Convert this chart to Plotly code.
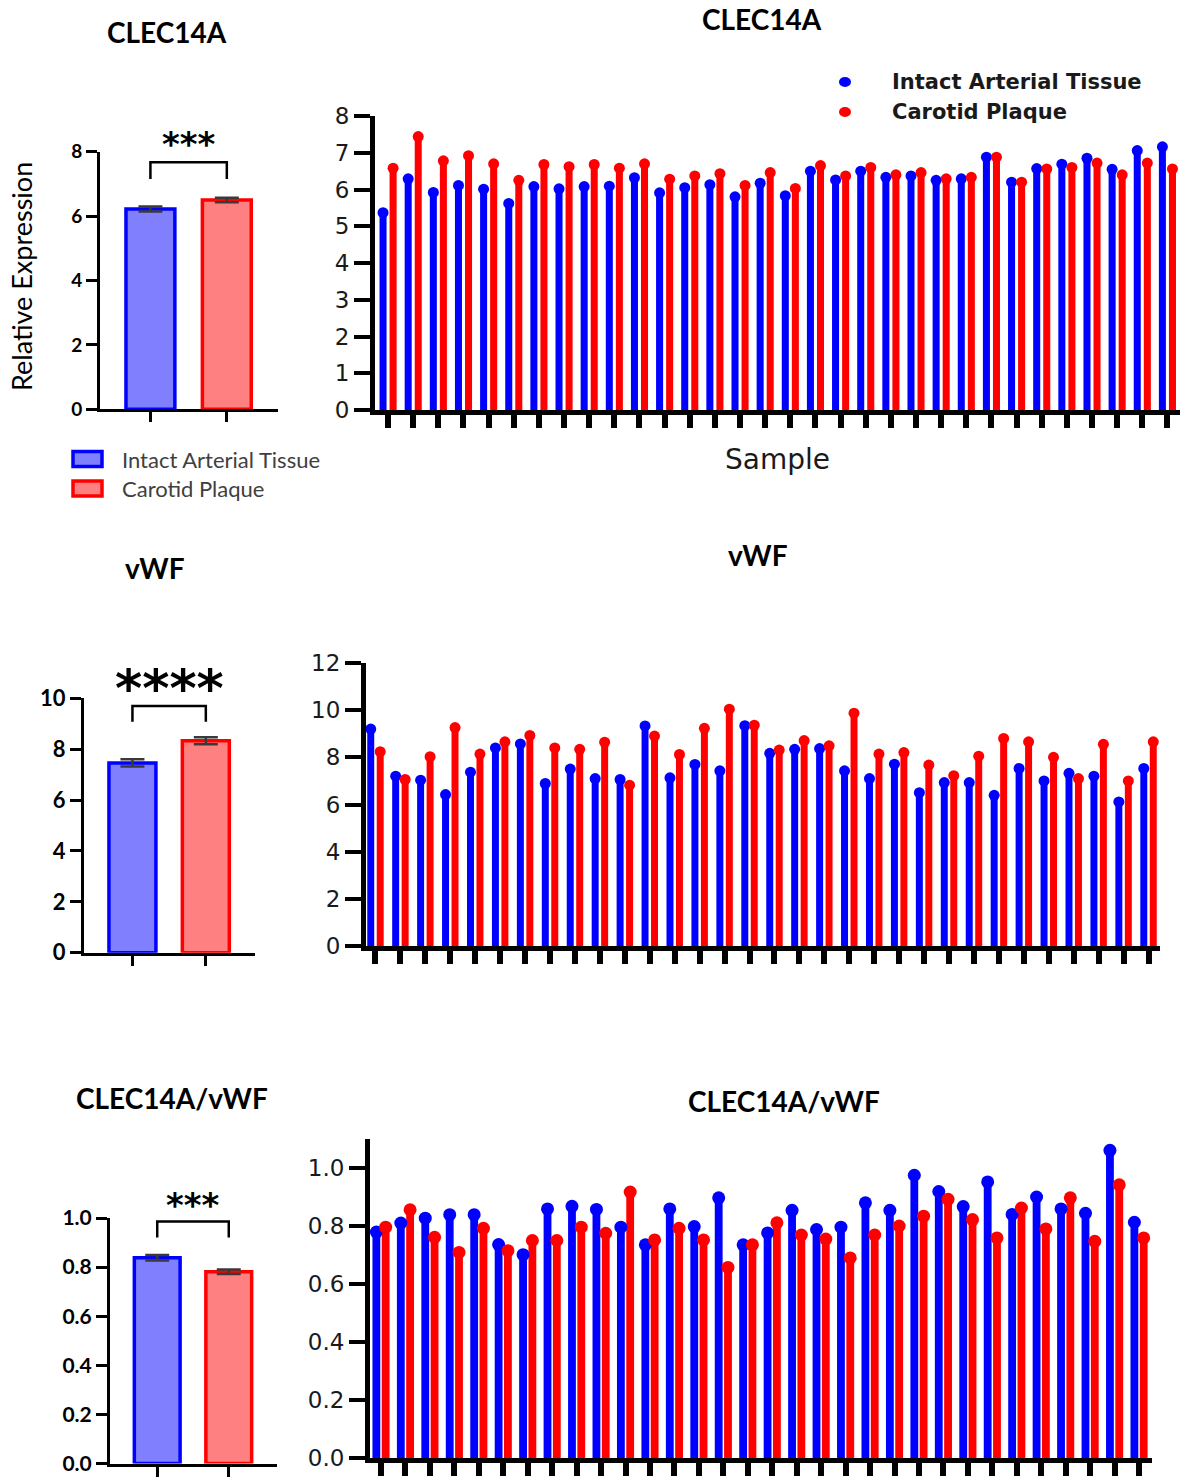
import plotly.graph_objects as go
import numpy as np

W, H = 1182, 1477
BLUE, RED = "#0000FF", "#FF0000"
BLUE_FILL, RED_FILL = "#8080FF", "#FF8080"

groups = ["Intact Arterial Tissue", "Carotid Plaque"]

# ---- summary bar data (mean, SEM) ----
clec_mean = [6.22, 6.50]
clec_sem = [0.08, 0.07]
vwf_mean = [7.46, 8.33]
vwf_sem = [0.14, 0.14]
ratio_mean = [0.838, 0.781]
ratio_sem = [0.011, 0.009]

clec_bracket = [7.15, 7.67]
vwf_bracket = [9.08, 9.70]
ratio_bracket = [0.921, 0.986]
clec_sig, vwf_sig, ratio_sig = "***", "****", "***"

# ---- per-sample data ----
samples = list(range(1, 33))
clec_intact = [5.37, 6.29, 5.92, 6.11, 6.01, 5.62, 6.08, 6.02, 6.08, 6.09, 6.32, 5.91, 6.05, 6.13, 5.80, 6.17,
               5.83, 6.50, 6.26, 6.50, 6.33, 6.37, 6.25, 6.29, 6.88, 6.20, 6.57, 6.69, 6.85, 6.55, 7.06, 7.16]
clec_plaque = [6.58, 7.44, 6.78, 6.92, 6.70, 6.25, 6.68, 6.62, 6.68, 6.58, 6.70, 6.28, 6.37, 6.43, 6.11, 6.46,
               6.03, 6.65, 6.37, 6.60, 6.40, 6.46, 6.29, 6.33, 6.88, 6.20, 6.56, 6.60, 6.72, 6.40, 6.72, 6.56]
vwf_intact = [9.20, 7.20, 7.03, 6.42, 7.37, 8.40, 8.57, 6.89, 7.50, 7.10, 7.06, 9.33, 7.13, 7.70, 7.43, 9.34,
              8.17, 8.34, 8.37, 7.43, 7.10, 7.71, 6.50, 6.93, 6.93, 6.39, 7.53, 7.00, 7.32, 7.20, 6.11, 7.53]
vwf_plaque = [8.24, 7.06, 8.03, 9.26, 8.14, 8.66, 8.93, 8.40, 8.34, 8.64, 6.82, 8.90, 8.12, 9.23, 10.04, 9.36,
              8.31, 8.71, 8.49, 9.87, 8.14, 8.20, 7.67, 7.22, 8.05, 8.80, 8.66, 8.00, 7.10, 8.55, 7.00, 8.66]
ratio_intact = [0.779, 0.810, 0.827, 0.839, 0.839, 0.736, 0.701, 0.859, 0.868, 0.857, 0.796, 0.735, 0.859, 0.798,
                0.897, 0.735, 0.776, 0.854, 0.788, 0.796, 0.880, 0.854, 0.975, 0.919, 0.867, 0.952, 0.840, 0.900,
                0.859, 0.844, 1.061, 0.813]
ratio_plaque = [0.796, 0.856, 0.761, 0.709, 0.792, 0.715, 0.750, 0.750, 0.796, 0.775, 0.917, 0.752, 0.792, 0.752,
                0.657, 0.735, 0.811, 0.769, 0.755, 0.690, 0.769, 0.800, 0.834, 0.892, 0.822, 0.759, 0.862, 0.790,
                0.897, 0.747, 0.942, 0.759]


def xd(px):
    return px / W


def yd(py):
    return 1 - py / H


fig = go.Figure()
layout = dict(width=W, height=H, margin=dict(l=0, r=0, t=0, b=0, autoexpand=False), paper_bgcolor="white",
              plot_bgcolor="white", showlegend=False, barmode="overlay")

SUFFIX = ["", "2", "3", "4", "5", "6"]
annotations = []


def bar_panel(k, means, sems, bracket, sig, xpx, ypx, yrange, dtick, tickfmt, tfsize, sig_size, sig_pos):
    xa, ya = "x" + SUFFIX[k], "y" + SUFFIX[k]
    for i, (m, s) in enumerate(zip(means, sems)):
        fig.add_trace(go.Bar(
            x=[i], y=[m], width=0.64, xaxis=xa, yaxis=ya,
            marker=dict(color=[BLUE_FILL, RED_FILL][i], line=dict(color=[BLUE, RED][i], width=3.5)),
            error_y=dict(type="data", array=[s], color="#3a3a3a", thickness=2.5, width=12),
            name=groups[i]))
    fig.add_trace(go.Scatter(x=[0, 0, 1, 1], y=[bracket[0], bracket[1], bracket[1], bracket[0]],
                             mode="lines", line=dict(color="black", width=2.5), xaxis=xa, yaxis=ya,
                             cliponaxis=False))
    layout["xaxis" + SUFFIX[k]] = dict(domain=[xd(xpx[0]), xd(xpx[1])], range=[-0.66, 1.67], anchor=ya,
                                       showline=True, linecolor="black", linewidth=3, ticks="outside",
                                       tickvals=[0, 1], ticklen=10, tickwidth=3, tickcolor="black",
                                       showticklabels=False, showgrid=False, zeroline=False, automargin=False)
    layout["yaxis" + SUFFIX[k]] = dict(domain=[yd(ypx[0]), yd(ypx[1])], range=yrange, anchor=xa,
                                       showline=True, linecolor="black", linewidth=3, ticks="outside",
                                       dtick=dtick, tick0=0, ticklen=11, tickwidth=3, tickcolor="black",
                                       tickformat=tickfmt, showgrid=False, zeroline=False, automargin=False,
                                       ticklabeloverflow="allow",
                                       tickfont=dict(family="Lato", size=tfsize, color="black", weight="bold"))
    annotations.append(dict(x=xd(sig_pos[0]), y=yd(sig_pos[1]), xref="paper", yref="paper", text=sig,
                            showarrow=False, xanchor="center", yanchor="middle",
                            font=dict(family="DejaVu Sans", size=sig_size, color="black", weight="bold")))


def lolli_panel(k, intact, plaque, xpx, ypx, xrange, yrange, dtick, tickfmt, stem_w, msize, off):
    xa, ya = "x" + SUFFIX[k], "y" + SUFFIX[k]
    idx = np.arange(len(samples))
    for vals, col, o in [(intact, BLUE, -off), (plaque, RED, off)]:
        fig.add_trace(go.Bar(x=idx + o, y=vals, width=stem_w, marker=dict(color=col, line=dict(width=0)),
                             xaxis=xa, yaxis=ya))
        fig.add_trace(go.Scatter(x=idx + o, y=vals, mode="markers", marker=dict(color=col, size=msize),
                                 xaxis=xa, yaxis=ya, cliponaxis=False))
    layout["xaxis" + SUFFIX[k]] = dict(domain=[xd(xpx[0]), xd(xpx[1])], range=xrange, anchor=ya,
                                       showline=True, linecolor="black", linewidth=5, ticks="outside",
                                       tickvals=list(idx), ticklen=13, tickwidth=6, tickcolor="black",
                                       showticklabels=False, showgrid=False, zeroline=False, automargin=False)
    layout["yaxis" + SUFFIX[k]] = dict(domain=[yd(ypx[0]), yd(ypx[1])], range=yrange, anchor=xa,
                                       showline=True, linecolor="black", linewidth=5, ticks="outside",
                                       dtick=dtick, tick0=0, ticklen=16, tickwidth=4, tickcolor="black",
                                       tickformat=tickfmt, showgrid=False, zeroline=False, automargin=False,
                                       ticklabeloverflow="allow",
                                       tickfont=dict(family="DejaVu Sans", size=23, color="#1a1a1a"))


# Left bar panels
bar_panel(0, clec_mean, clec_sem, clec_bracket, clec_sig, (100, 278), (409.3, 151.7), [0, 8], 2, "d", 19, 34,
          (189, 144))
bar_panel(2, vwf_mean, vwf_sem, vwf_bracket, vwf_sig, (84, 255), (952.7, 698.3), [0, 10], 2, "d", 22, 52,
          (169, 688))
bar_panel(4, ratio_mean, ratio_sem, ratio_bracket, ratio_sig, (110, 276.7), (1463.5, 1218), [0, 1], 0.2, ".1f",
          21, 34, (193, 1205))

# Right lollipop panels
lolli_panel(1, clec_intact, clec_plaque, (375, 1180), (410, 116), [-0.52, 31.5], [0, 8], 1, "d", 0.28, 11, 0.2)
lolli_panel(3, vwf_intact, vwf_plaque, (366, 1160), (946, 663), [-0.38, 31.46], [0, 12], 2, "d", 0.28, 11, 0.19)
lolli_panel(5, ratio_intact, ratio_plaque, (370, 1152), (1458, 1139), [-0.45, 31.53], [0, 1.1], 0.2, ".1f",
            0.32, 13, 0.19)

title_font = dict(family="Lato", size=28, color="black", weight="bold")
for txt, x, y in [("CLEC14A", 167, 32), ("CLEC14A", 762, 19), ("vWF", 155, 568), ("vWF", 758, 555),
                  ("CLEC14A/vWF", 172, 1098), ("CLEC14A/vWF", 784, 1101)]:
    annotations.append(dict(x=xd(x), y=yd(y), xref="paper", yref="paper", text=txt, showarrow=False,
                            font=title_font, xanchor="center", yanchor="middle"))

annotations.append(dict(x=xd(21), y=yd(277), xref="paper", yref="paper", text="Relative Expression",
                        textangle=-90, showarrow=False, font=dict(family="Lato", size=27, color="black"),
                        xanchor="center", yanchor="middle"))
annotations.append(dict(x=xd(777), y=yd(459), xref="paper", yref="paper", text="Sample", showarrow=False,
                        font=dict(family="DejaVu Sans", size=28, color="#1a1a1a"), xanchor="center",
                        yanchor="middle"))

# legends
shapes = []
for i, (yy, fill, col) in enumerate([(459, BLUE_FILL, BLUE), (488.5, RED_FILL, RED)]):
    shapes.append(dict(type="rect", xref="paper", yref="paper", x0=xd(73), x1=xd(102), y0=yd(yy - 7.5),
                       y1=yd(yy + 7.5), fillcolor=fill, line=dict(color=col, width=3.5)))
    annotations.append(dict(x=xd(120), y=yd(yy), xref="paper", yref="paper", text=groups[i], showarrow=False,
                            font=dict(family="Lato", size=22, color="#404040"), xanchor="left",
                            yanchor="middle"))
for i, (yy, col) in enumerate([(82, BLUE), (112, RED)]):
    shapes.append(dict(type="circle", xref="paper", yref="paper", x0=xd(839), x1=xd(851), y0=yd(yy - 5),
                       y1=yd(yy + 5), fillcolor=col, line=dict(color=col, width=0)))
    annotations.append(dict(x=xd(890), y=yd(yy), xref="paper", yref="paper", text=groups[i], showarrow=False,
                            font=dict(family="DejaVu Sans", size=21, color="#1a1a1a", weight="bold"),
                            xanchor="left", yanchor="middle"))

layout["annotations"] = annotations
layout["shapes"] = shapes
fig.update_layout(**layout)
fig.write_html("out.html")
